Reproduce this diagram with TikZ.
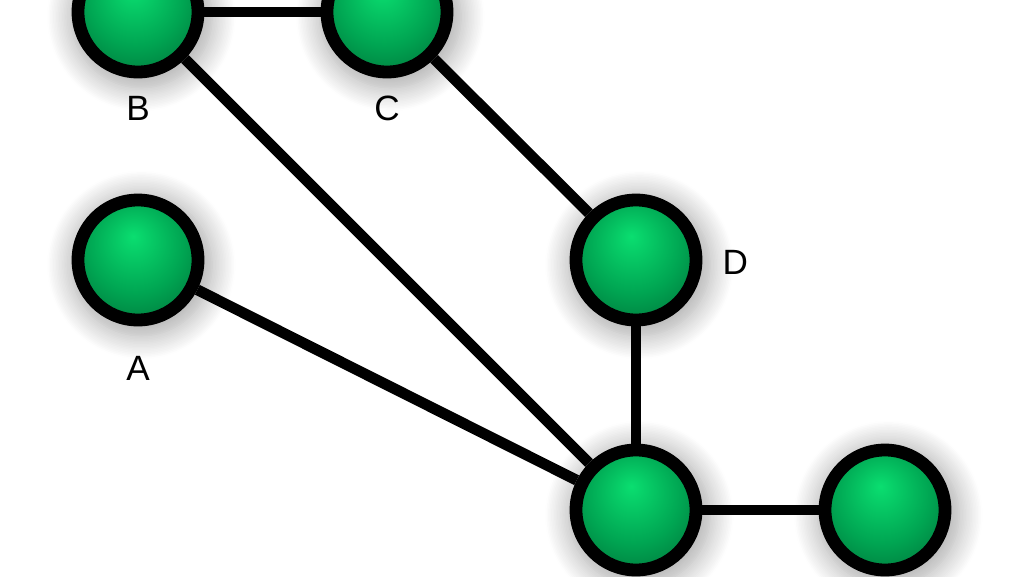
\documentclass[tikz,border=0pt]{standalone}
\usepackage{fontspec}
\setmainfont{Liberation Sans}
\usepackage{tikz}
\usetikzlibrary{backgrounds,shadows.blur}

\definecolor{ballhi}{RGB}{10,222,112}
\definecolor{ballmid}{RGB}{0,165,82}
\definecolor{balllo}{RGB}{0,105,52}
\pgfdeclareradialshading{greenball}{\pgfpoint{-2bp}{10bp}}{%
  color(0bp)=(ballhi); color(20bp)=(ballmid); color(38bp)=(balllo); color(50bp)=(balllo)}

\tikzset{
  vertex/.style={circle, minimum size=3cm, line width=0.32cm, draw=black,
    shading=greenball,
    blur shadow={shadow xshift=2pt, shadow yshift=-3pt, shadow scale=1.18,
      shadow opacity=35, shadow blur steps=16, shadow blur radius=0.5cm}},
  link/.style={line width=0.27cm, black},
  lbl/.style={font=\fontsize{25}{29}\selectfont}
}

\begin{document}
\begin{tikzpicture}
    \useasboundingbox (0,0) rectangle (25.6,-14.4);
    \clip (0,0) rectangle (25.6,-14.4);
    \node[vertex] (B) at (3.45, -0.3) {};
    \node[vertex] (C) at (9.675, -0.3) {};
    \node[vertex] (A) at (3.45, -6.5) {};
    \node[vertex] (D) at (15.9, -6.5) {};
    \node[vertex] (E) at (15.9, -12.75) {};
    \node[vertex] (F) at (22.125, -12.75) {};
    \begin{scope}[on background layer]
        \draw[link] (A) -- (E);
        \draw[link] (B) -- (E);
        \draw[link] (B) -- (C);
        \draw[link] (C) -- (D);
        \draw[link] (D) -- (E);
        \draw[link] (E) -- (F);
    \end{scope}
    \node[lbl] (labB) at (3.45, -2.72) {B};
    \node[lbl] (labC) at (9.675, -2.72) {C};
    \node[lbl] (labA) at (3.45, -9.2) {A};
    \node[lbl] (labD) at (18.38, -6.55) {D};
\end{tikzpicture}
\end{document}
